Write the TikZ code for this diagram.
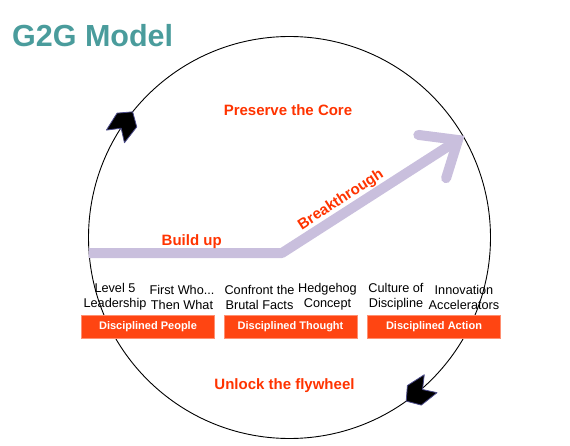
\documentclass[tikz,border=0pt]{standalone}
\usepackage{fontspec}
\setmainfont{Liberation Sans}
\usetikzlibrary{arrows.meta,positioning,calc}
\definecolor{verdeazul}{HTML}{4A9C9C}
\definecolor{rojo}{HTML}{FF3300}
\definecolor{naranja}{HTML}{FF4512}
\definecolor{lila}{HTML}{C9BFDD}

\begin{document}
\begin{tikzpicture}[x=1pt, y=1pt,
  bloque/.style={rectangle, draw=naranja!60, fill=naranja, text=white, minimum width=133pt,
                 minimum height=23pt, inner sep=0pt, font=\fontsize{11}{13}\selectfont\bfseries},
  etiqueta/.style={align=center, inner sep=0pt, font=\fontsize{12.7}{15}\selectfont},
  lema/.style={text=rojo, inner sep=0pt, font=\fontsize{15}{18}\selectfont\bfseries},
  volante/.pic={\filldraw[fill=black, draw=blue!35!black!70, line width=0.8pt, line join=round]
      (0,0) -- (-10,12) -- (-30,11) -- (-20,0) -- (-30,-11) -- (-10,-12) -- cycle;}]
\useasboundingbox (0,0) rectangle (570,445);
\node[anchor=base west, text=verdeazul, inner sep=0pt,
      font=\fontsize{30.5}{36}\selectfont\bfseries](titulo) at (12,398){G2G Model};
% the flywheel
\coordinate (eje) at (289.5,207.5);
\draw[line width=0.9pt] (eje) circle[radius=201];
\coordinate (giroA) at ($(eje)+(141.3:201)$);
\coordinate (giroB) at ($(eje)+(305.5:201)$);
\pic[rotate=55] at (giroA) {volante};
\pic[rotate=215.5] at (giroB) {volante};
% build up / breakthrough
\coordinate (inicio) at (88.5,192);
\coordinate (codo) at (282,192);
\coordinate (punta) at (458,305);
\coordinate (ala1) at ($(punta)+(172.7:40)$);
\coordinate (ala2) at ($(punta)+(252.7:40)$);
\draw[lila, line width=10pt, line join=round](inicio)--(codo)--(punta);
\draw[lila, line width=10pt, line cap=round](ala1)--(punta)--(ala2);
\node[lema, anchor=base](core) at (288,329){Preserve the Core};
\node[lema, anchor=base](build) at (191.7,200){Build up};
\node[lema, rotate=33](break) at (341,245){Breakthrough};
\node[lema, anchor=base](unlock) at (284.5,55.7){Unlock the flywheel};
% stages
\node[etiqueta](l5) at (115,148){Level 5\\Leadership};
\node[etiqueta](fw) at (182,148){First Who...\\Then What};
\node[etiqueta](cb) at (259.5,148){Confront the\\Brutal Facts};
\node[etiqueta](hc) at (327.5,148){Hedgehog\\Concept};
\node[etiqueta](cd) at (396,148){Culture of\\Discipline};
\node[etiqueta](ia) at (464,148){Innovation\\Accelerators};
\node[bloque](dp) at (148,118.5){Disciplined People};
\node[bloque](dt) at (290.5,118.5){Disciplined Thought};
\node[bloque](da) at (434,118.5){Disciplined Action};
\end{tikzpicture}
\end{document}
